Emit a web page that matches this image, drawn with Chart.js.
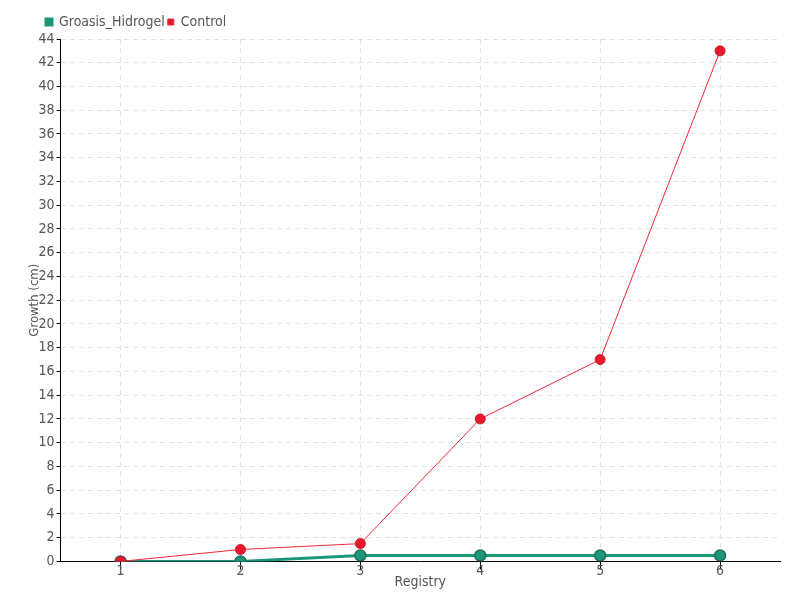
<!DOCTYPE html>
<html lang="en">
<head>
    <meta charset="UTF-8">
    <title>Growth by Registry</title>
    <script src="https://cdn.jsdelivr.net/npm/chart.js"></script>
    <style>
        body { margin: 0; background: #fff; }
        #wrap { width: 800px; height: 600px; }
    </style>
</head>
<body>
    <div id="wrap"><canvas id="growthChart" width="800" height="600"></canvas></div>

    <script>
        const registries = ['1', '2', '3', '4', '5', '6'];
        const groasisHidrogel = [0, 0, 0.5, 0.5, 0.5, 0.5];
        const control = [0, 1, 1.5, 12, 17, 43];

        Chart.defaults.font.family = "'DejaVu Sans Condensed', 'Liberation Sans Narrow', Roboto, sans-serif";
        Chart.defaults.font.size = 14;
        Chart.defaults.color = '#555';

        // nudge the legend right so it lines up with the plot, like the original
        const legendShift = {
            id: 'legendShift',
            beforeDraw(chart) {
                if (chart.legend) chart.legend.left = 43;
            }
        };

        new Chart(document.getElementById('growthChart'), {
            type: 'line',
            data: {
                labels: registries,
                datasets: [
                    {
                        label: 'Control',
                        data: control,
                        borderColor: '#f0293c',
                        backgroundColor: '#e8192c',
                        pointBorderColor: '#d01828',
                        borderWidth: 1,
                        pointRadius: 5,
                        pointBorderWidth: 1,
                        tension: 0,
                        fill: false
                    },
                    {
                        label: 'Groasis_Hidrogel',
                        data: groasisHidrogel,
                        borderColor: '#1a977a',
                        backgroundColor: '#1a977a',
                        pointBorderColor: '#2a6b58',
                        borderWidth: 3,
                        pointRadius: 5.5,
                        pointBorderWidth: 1.5,
                        tension: 0,
                        fill: false
                    }
                ]
            },
            plugins: [legendShift],
            options: {
                responsive: false,
                animation: false,
                layout: { padding: { left: 27, right: 20, top: 12, bottom: 9 } },
                plugins: {
                    legend: {
                        position: 'top',
                        align: 'start',
                        reverse: true,
                        labels: {
                            boxWidth: 6,
                            boxHeight: 6,
                            padding: 3,
                            font: { size: 14 }
                        }
                    },
                    tooltip: { enabled: false }
                },
                scales: {
                    x: {
                        offset: true,
                        grid: { color: '#e3e3e3', tickColor: '#000', tickLength: 8, offset: false },
                        border: { color: '#000', width: 1, dash: [5, 4] },
                        ticks: { padding: -6 },
                        title: { display: true, text: 'Registry', padding: { top: 0, bottom: 0 } }
                    },
                    y: {
                        min: 0,
                        max: 44,
                        grid: { color: '#e3e3e3', tickColor: '#000', tickLength: 4 },
                        border: { color: '#000', width: 1, dash: [5, 4] },
                        ticks: { stepSize: 2, padding: 2 },
                        title: { display: true, text: 'Growth (cm)', font: { size: 13 }, padding: { top: 0, bottom: -6 } }
                    }
                }
            }
        });
    </script>
</body>
</html>
